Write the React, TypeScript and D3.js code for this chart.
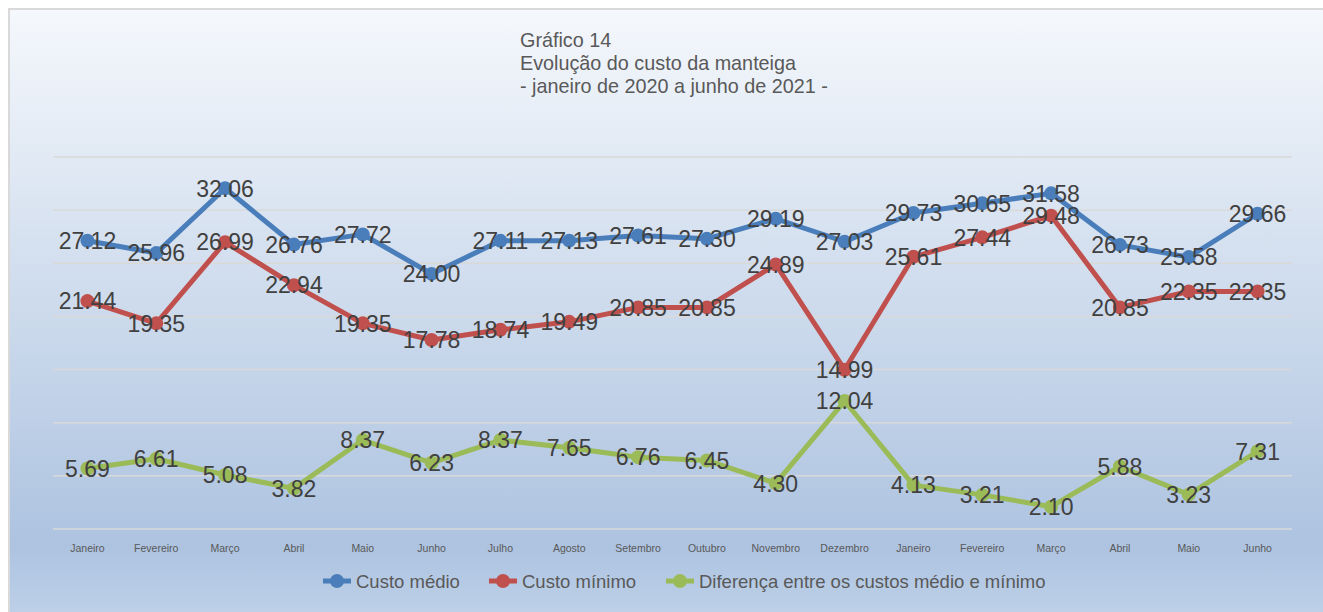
import React, { useEffect, useRef } from 'react';
import * as d3 from 'd3';

const months = ['Janeiro','Fevereiro','Março','Abril','Maio','Junho','Julho','Agosto','Setembro','Outubro','Novembro','Dezembro','Janeiro','Fevereiro','Março','Abril','Maio','Junho'];
const custoMedio = [27.12,25.96,32.06,26.76,27.72,24.00,27.11,27.13,27.61,27.30,29.19,27.03,29.73,30.65,31.58,26.73,25.58,29.66];
const custoMinimo = [21.44,19.35,26.99,22.94,19.35,17.78,18.74,19.49,20.85,20.85,24.89,14.99,25.61,27.44,29.48,20.85,22.35,22.35];
const diferenca = [5.69,6.61,5.08,3.82,8.37,6.23,8.37,7.65,6.76,6.45,4.30,12.04,4.13,3.21,2.10,5.88,3.23,7.31];
const yTicks = [0,5,10,15,20,25,30,35];
const titleLines = ['Gráfico 14','Evolução do custo da manteiga','- janeiro de 2020 a junho de 2021 -'];
const seriesNames = ['Custo médio','Custo mínimo','Diferença entre os custos médio e mínimo'];

export default function App() {
  const ref = useRef<SVGSVGElement>(null);
  const width = 1323;
  const height = 612;
  const margin = { Top: 157, Right: 31, Bottom: 83, Left: 53 };
  const colors = ['#4a7ebb', '#c0504d', '#9bbb59'];

  useEffect(() => {
    const svg = d3.select(ref.current);
    svg.selectAll('*').remove();

    // ------------ background ------------//
    const defs = svg.append('defs');
    const grad = defs.append('linearGradient')
      .attr('id', 'bg')
      .attr('x1', 0).attr('y1', 0).attr('x2', 0).attr('y2', 1);
    grad.append('stop').attr('offset', '0%').attr('stop-color', '#f5f8fc');
    grad.append('stop').attr('offset', '85%').attr('stop-color', '#adc3e0');
    grad.append('stop').attr('offset', '100%').attr('stop-color', '#c3d5eb');

    svg.append('rect')
      .attr('x', 0).attr('y', 0).attr('width', width).attr('height', height)
      .attr('fill', '#fff');
    svg.append('rect')
      .attr('x', 9).attr('y', 9).attr('width', width + 20).attr('height', height + 20)
      .attr('fill', 'url(#bg)')
      .attr('stroke', '#d9d9d9')
      .attr('stroke-width', 2);

    // ------------ scales ------------//
    const xScale = d3.scaleBand<number>()
      .domain(months.map((d, i) => i))
      .range([margin.Left, width - margin.Right]);
    const cx = (i: number) => (xScale(i) as number) + xScale.bandwidth() / 2;

    const yScale = d3.scaleLinear()
      .domain([0, 35])
      .range([height - margin.Bottom, margin.Top]);

    // ------------ gridlines ------------//
    svg.append('g')
      .selectAll('line')
      .data(yTicks)
      .join('line')
      .attr('x1', margin.Left)
      .attr('x2', width - margin.Right)
      .attr('y1', d => yScale(d))
      .attr('y2', d => yScale(d))
      .attr('stroke', '#d9d9d9')
      .attr('stroke-width', 1.5);

    // ------------ x axis ------------//
    const xAxis = d3.axisBottom(xScale)
      .tickFormat((d) => months[d as number])
      .tickSize(0)
      .tickPadding(0);
    const gx = svg.append('g')
      .attr('transform', `translate(0,${height - margin.Bottom + 16})`)
      .call(xAxis);
    gx.select('.domain').remove();
    gx.selectAll('.tick text')
      .attr('fill', '#595959')
      .attr('font-size', 10.5)
      .attr('font-family', 'Liberation Sans, Arial, sans-serif');

    // ------------ series ------------//
    const allSeries = [custoMedio, custoMinimo, diferenca];
    const line = d3.line<number>()
      .x((d, i) => cx(i))
      .y(d => yScale(d));

    allSeries.forEach((vals, s) => {
      const g = svg.append('g');
      g.append('path')
        .datum(vals)
        .attr('fill', 'none')
        .attr('stroke', colors[s])
        .attr('stroke-width', 5)
        .attr('stroke-linejoin', 'round')
        .attr('d', line);
      g.selectAll('circle')
        .data(vals)
        .join('circle')
        .attr('cx', (d, i) => cx(i))
        .attr('cy', d => yScale(d))
        .attr('r', 7)
        .attr('fill', colors[s]);
    });

    // ------------ data labels ------------//
    allSeries.forEach((vals) => {
      svg.append('g')
        .selectAll('text')
        .data(vals)
        .join('text')
        .attr('x', (d, i) => cx(i))
        .attr('y', d => yScale(d))
        .attr('dy', '0.36em')
        .attr('text-anchor', 'middle')
        .attr('font-size', 23)
        .attr('font-family', 'Liberation Sans, Arial, sans-serif')
        .attr('fill', '#404040')
        .text(d => d.toFixed(2));
    });

    // ------------ title ------------//
    const title = svg.append('text')
      .attr('x', 520)
      .attr('y', 47)
      .attr('fill', '#595959')
      .attr('font-size', 19.8)
      .attr('font-family', 'Liberation Sans, Arial, sans-serif');
    titleLines.forEach((t, i) => {
      title.append('tspan')
        .attr('x', 520)
        .attr('dy', i === 0 ? 0 : 23)
        .text(t);
    });

    // ------------ legend ------------//
    const legendX = [337, 503, 680];
    const legendY = 581;
    seriesNames.forEach((name, i) => {
      const g = svg.append('g').attr('transform', `translate(${legendX[i]},${legendY})`);
      g.append('line')
        .attr('x1', -14).attr('x2', 14)
        .attr('stroke', colors[i])
        .attr('stroke-width', 5);
      g.append('circle').attr('r', 7).attr('fill', colors[i]);
      g.append('text')
        .attr('x', 19)
        .attr('dy', '0.36em')
        .attr('fill', '#595959')
        .attr('font-size', 18.5)
        .attr('font-family', 'Liberation Sans, Arial, sans-serif')
        .text(name);
    });
  }, []);

  return (
    <svg
      ref={ref}
      width={width}
      height={height}
      style={{ position: 'absolute', left: 0, top: 0, display: 'block' }}
    />
  );
}
